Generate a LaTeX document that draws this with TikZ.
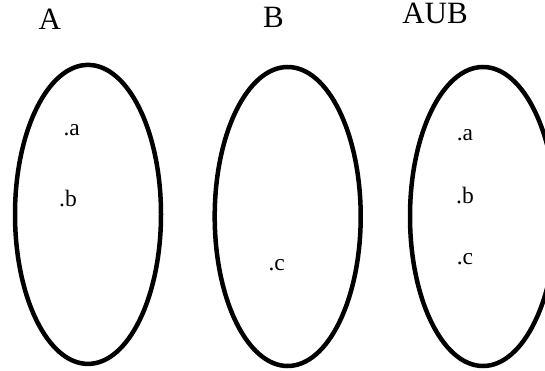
\documentclass[tikz,border=0pt]{standalone}
\usepackage{fontspec}
\setmainfont{Liberation Serif}
\usetikzlibrary{shapes.geometric}

\begin{document}
\begin{tikzpicture}[
    x=1pt,
    y=1pt,
    setshape/.style={draw=black, ellipse, line width=4.5pt, minimum width=146pt, minimum height=299pt, inner sep=0pt},
    title/.style={anchor=base, inner sep=0pt, font=\fontsize{31}{36}\selectfont},
    elem/.style={anchor=base, inner sep=0pt, font=\fontsize{23.5}{28}\selectfont}
  ]
    \useasboundingbox (0,0) rectangle (545,370);

    \node[setshape] (setA) at (88,155.6) {};
    \node[setshape] (setB) at (287.7,153.5) {};
    \node[setshape] (setAUB) at (483,153.5) {};

    \node[title] (lblA) at (49.7,340.5) {A};
    \node[title] (lblB) at (273.5,342.2) {B};
    \node[title] (lblAUB) at (435,346.4) {AUB};

    \node[elem] (elemAa) at (71.7,235) {.a};
    \node[elem] (elemAb) at (68,163.3) {.b};
    \node[elem] (elemBc) at (276.7,100) {.c};

    \node[elem] (elemUa) at (465,230) {.a};
    \node[elem] (elemUb) at (465,167) {.b};
    \node[elem] (elemUc) at (465,106) {.c};
  \end{tikzpicture}
\end{document}
